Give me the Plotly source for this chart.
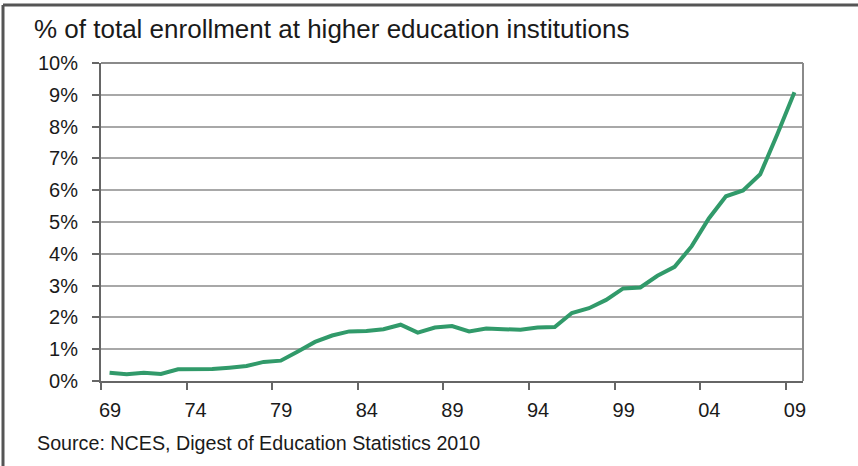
import plotly.graph_objects as go

# Data
years = list(range(1969, 2010))
share_pct = [0.26, 0.21, 0.26, 0.22, 0.37, 0.37, 0.38, 0.42, 0.47, 0.60,
             0.64, 0.93, 1.23, 1.43, 1.56, 1.57, 1.63, 1.77, 1.52, 1.68,
             1.73, 1.56, 1.65, 1.63, 1.61, 1.68, 1.70, 2.14, 2.29, 2.55,
             2.91, 2.94, 3.31, 3.59, 4.24, 5.11, 5.81, 5.99, 6.50, 7.76,
             9.08]
tick_years = years[::5]
tick_labels = ["69", "74", "79", "84", "89", "94", "99", "04", "09"]
y_ticks = list(range(0, 11))

title_text = "% of total enrollment at higher education institutions"
source_text = "Source: NCES, Digest of Education Statistics 2010"

FONT = "Liberation Sans, Arial, sans-serif"
W, H = 858, 466
ML, MR, MT, MB = 101, 55, 63, 85
PW, PH = W - ML - MR, H - MT - MB

fig = go.Figure()
fig.add_trace(go.Scatter(
    x=years, y=share_pct, mode="lines",
    line=dict(color="#319a6a", width=4),
    hoverinfo="x+y", showlegend=False,
))

fig.update_layout(
    width=W, height=H,
    margin=dict(l=ML, r=MR, t=MT, b=MB, pad=0),
    paper_bgcolor="white", plot_bgcolor="white",
    font=dict(family=FONT, color="#1a1a1a"),
    title=dict(text=title_text, x=34 / W, xanchor="left", xref="container",
               y=1 - 29 / H, yanchor="middle", yref="container",
               font=dict(size=26, family=FONT, color="#1a1a1a")),
    xaxis=dict(
        range=[years[0] - 0.5, years[-1] + 0.5],
        tickmode="array",
        tickvals=[y - 0.5 for y in tick_years],
        ticktext=tick_labels,
        ticklabelshift=int(round(PW / len(years) / 2)),
        ticks="outside", ticklen=7, tickwidth=2, tickcolor="#666666",
        showline=True, linecolor="#666666", linewidth=2,
        showgrid=False, zeroline=False,
        tickfont=dict(size=20, family=FONT, color="#1a1a1a"),
        ticklabelstandoff=3,
    ),
    yaxis=dict(
        range=[0, 10],
        tickmode="array", tickvals=y_ticks,
        ticktext=[f"{v}%" for v in y_ticks],
        ticks="outside", ticklen=7, tickwidth=2, tickcolor="#666666",
        showline=True, linecolor="#666666", linewidth=2,
        showgrid=True, gridcolor="#a8a8a8", gridwidth=1.5,
        zeroline=False,
        tickfont=dict(size=20, family=FONT, color="#1a1a1a"),
        ticklabelstandoff=10,
    ),
)

# plot frame (top and right edges)
fig.add_shape(type="line", xref="paper", yref="paper", x0=0, x1=1, y0=1, y1=1,
              line=dict(color="#8a8a8a", width=2))
fig.add_shape(type="line", xref="paper", yref="paper", x0=1, x1=1, y0=0, y1=1,
              line=dict(color="#8a8a8a", width=2))
# outer picture frame (top and left edges)
fx = (3 - ML) / PW
fy = (H - MB - 5) / PH
fig.add_shape(type="line", xref="paper", yref="paper", x0=fx, x1=(W - ML) / PW,
              y0=fy, y1=fy, line=dict(color="#555555", width=3))
fig.add_shape(type="line", xref="paper", yref="paper", x0=fx, x1=fx,
              y0=-(MB) / PH, y1=fy, line=dict(color="#555555", width=3))

fig.add_annotation(text=source_text, xref="paper", yref="paper",
                   x=(35 - ML) / PW, xanchor="left",
                   y=-(443 - (H - MB)) / PH, yanchor="middle",
                   showarrow=False,
                   font=dict(size=19.7, family=FONT, color="#1a1a1a"))

fig.write_html("out.html",
               config={"displayModeBar": False},
               post_script="document.body.style.margin='0';"
                           "document.body.style.overflow='hidden';")
